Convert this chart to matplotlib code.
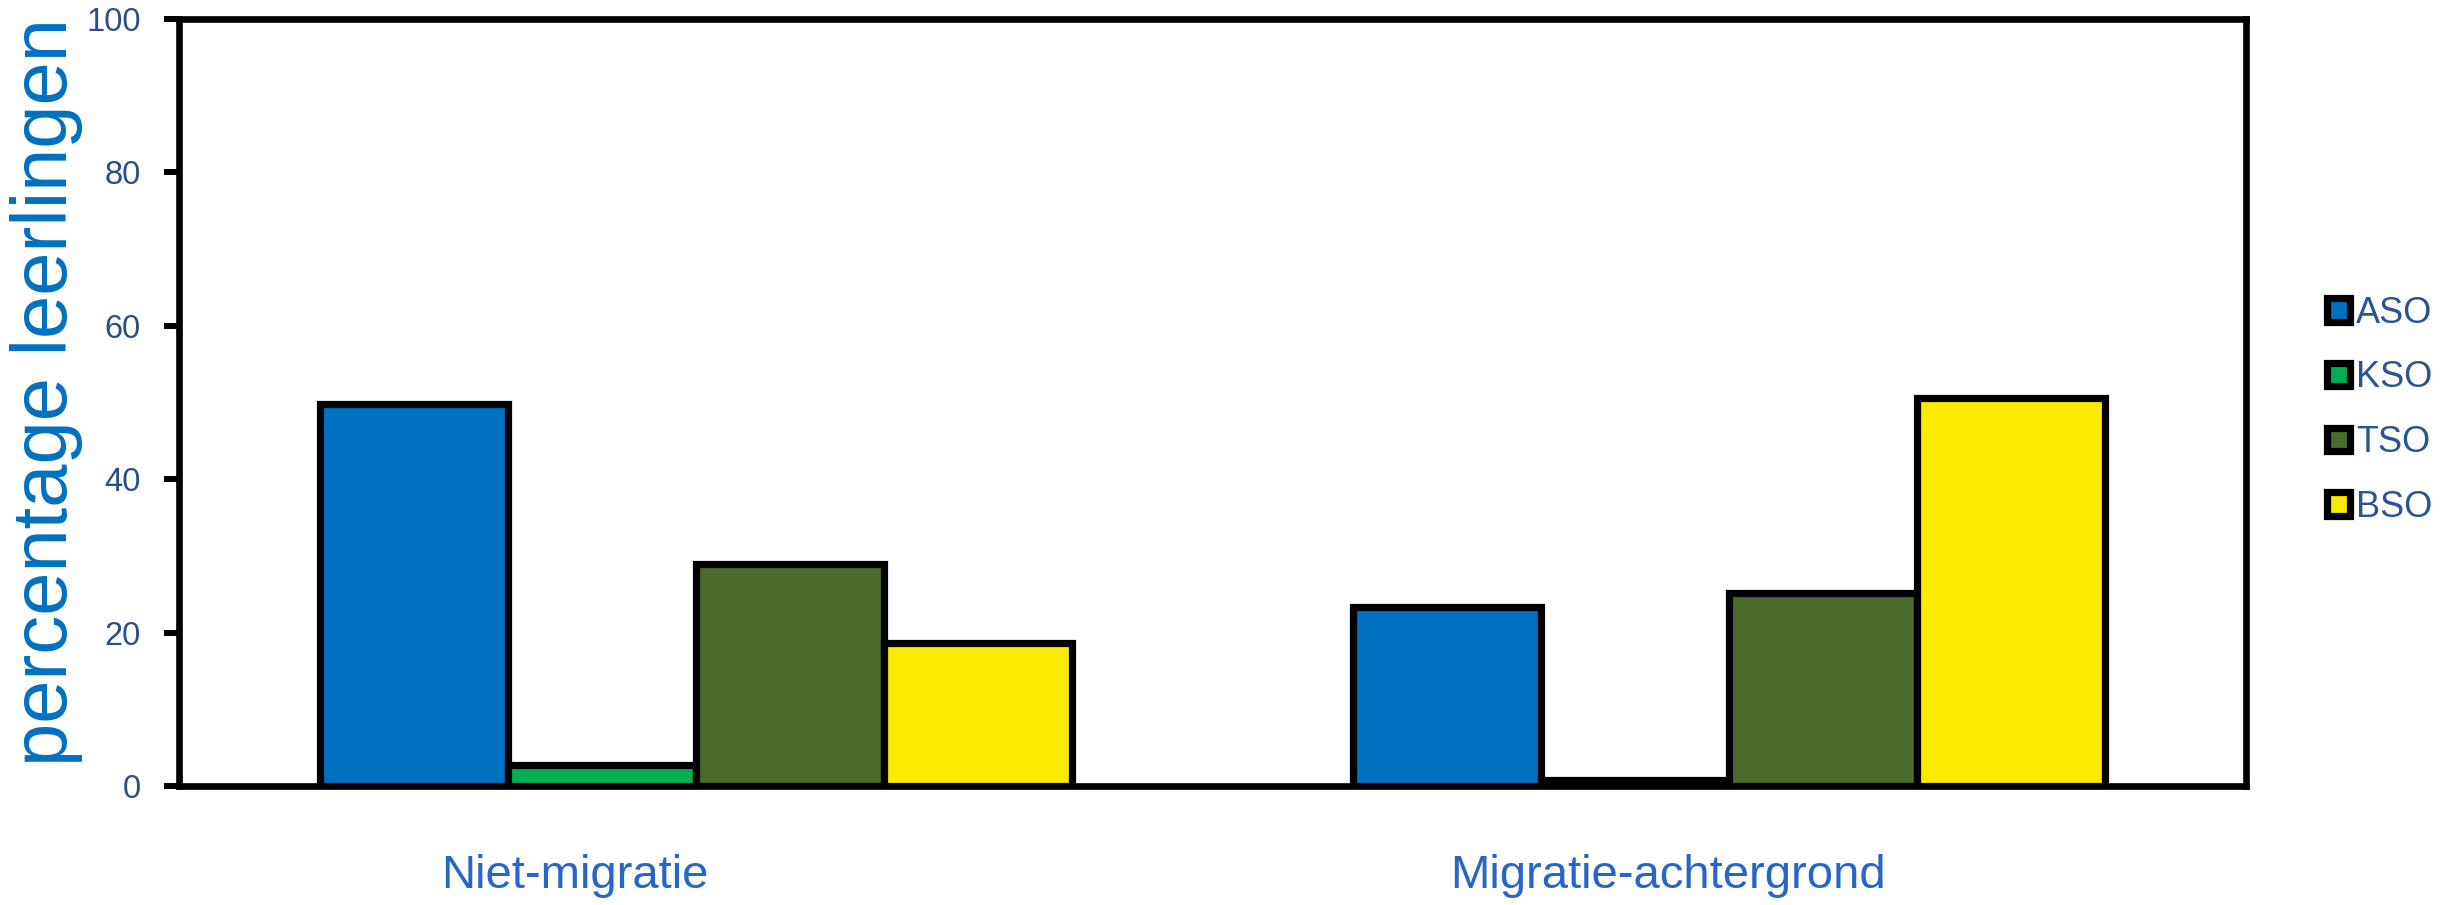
# Bar chart: percentage leerlingen per onderwijsvorm, met/zonder migratie-achtergrond

import matplotlib
matplotlib.use("Agg")
import matplotlib.pyplot as plt
import matplotlib.transforms as mtransforms
import numpy as np

# -----------------------------------------------------------------------------
# Data

categories = ["Niet-migratie", "Migratie-achtergrond"]
series = ["ASO", "KSO", "TSO", "BSO"]
aso = [49.8, 23.3]
kso = [2.8, 0.8]
tso = [28.9, 25.1]
bso = [18.7, 50.6]
y_ticks = [0, 20, 40, 60, 80, 100]

# -----------------------------------------------------------------------------
# Style

colors = ["#0070c0", "#00b050", "#4a6b2b", "#fae900"]
tick_color = "#2b4f81"
label_color = "#0070c0"
cat_color = "#2566c8"
legend_color = "#2a5592"

plt.rcParams['font.family'] = ['Liberation Sans', 'DejaVu Sans']

fig = plt.figure(figsize=(24.4, 9.05), dpi=100)
ax = fig.add_axes([0.0734, 0.1315, 0.8471, 0.8475])

x = np.arange(len(categories))
width = 0.182
values = [aso, kso, tso, bso]
for i, (name, vals) in enumerate(zip(series, values)):
    offset = (i - 1.5) * width
    ax.bar(x + offset, vals, width, color=colors[i], edgecolor="black",
           linewidth=5.2, label=name, zorder=3)

ax.set_xlim(-0.5, 1.5)
ax.set_ylim(0, 100)
ax.set_yticks(y_ticks)
ax.set_xticks([])
ax.tick_params(axis="y", direction="out", length=11, width=4.3, pad=16.5,
               labelsize=23.5, labelcolor=tick_color, color="black")
for side in ["left", "right", "top", "bottom"]:
    ax.spines[side].set_linewidth(4.8)
    ax.spines[side].set_color("black")
    ax.spines[side].set_zorder(4)

# category labels under the axis (slightly left of the group centers)
label_offsets = [-0.117, -0.059]
trans = mtransforms.blended_transform_factory(ax.transData, fig.transFigure)
for i, cat in enumerate(categories):
    ax.text(x[i] + label_offsets[i], 0.032, cat, transform=trans,
            ha="center", va="center", fontsize=34, color=cat_color)

fig.text(0.019, 0.567, "percentage leerlingen", rotation=90, ha="center",
         va="center", fontsize=56, color=label_color)

leg = ax.legend(loc="center left", bbox_to_anchor=(1.0, 0.49), frameon=False,
                fontsize=26, handlelength=0.62, handleheight=0.62,
                handletextpad=0.18, labelspacing=0.82, borderaxespad=1.85)
for t in leg.get_texts():
    t.set_color(legend_color)

plt.savefig("out.png", dpi=100)
